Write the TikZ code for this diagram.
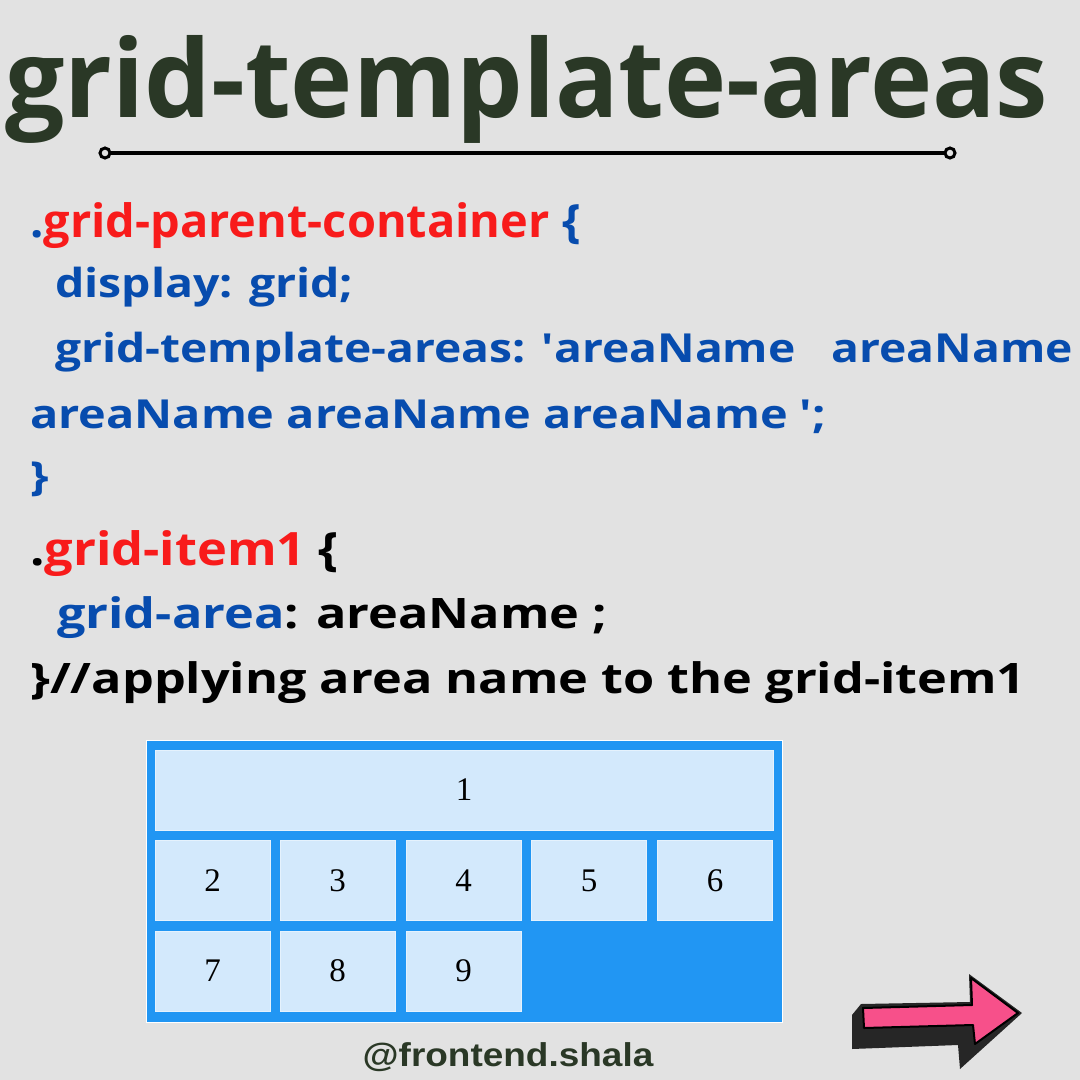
\documentclass[tikz,border=0pt]{standalone}
\usepackage{fontspec}
\setmainfont{Open Sans}
\newfontfamily\handlefont{Liberation Sans}
\newfontfamily\cellfont{Liberation Serif}
\usetikzlibrary{positioning}
\definecolor{titlegreen}{HTML}{2A3826}
\definecolor{codered}{HTML}{F81B1B}
\definecolor{codeblue}{HTML}{074CAE}
\definecolor{gridblue}{HTML}{2196F3}
\definecolor{cellblue}{HTML}{D3E9FC}
\definecolor{paper}{HTML}{E2E2E2}
\definecolor{arrowpink}{HTML}{F7508A}
% straight quote, past the tex-text mapping
\newcommand{\squote}{\XeTeXglyph\XeTeXcharglyph"0027\relax}
\newcommand{\codewide}[2]{\scalebox{#1}[1]{#2}}
\tikzset{
  code/.style={anchor=base west,inner sep=0pt,font=\fontsize{#1}{#1}\selectfont\bfseries},
  code/.default=40,
  cell/.style={fill=cellblue,draw=cellblue!60!white,line width=0.8pt,inner sep=0pt,
    minimum width=115pt,minimum height=80pt,font=\cellfont\fontsize{33}{36}\selectfont},
}
\begin{document}
\begin{tikzpicture}[x=1pt,y=-1pt]
  % paper background
  \useasboundingbox (0,0) rectangle (1080,1080);
  \fill[paper] (0,0) rectangle (1080,1080);
  % title and rule
  \node[anchor=base west,inner sep=0pt,text=titlegreen,
    font=\fontsize{108}{110}\selectfont\bfseries] (title) at (5,117)
    {\codewide{0.975}{grid-template-areas}};
  \coordinate (ruleL) at (105,153);
  \coordinate (ruleR) at (950,153);
  \draw[line width=4pt] (ruleL) -- (ruleR);
  \draw[line width=3pt,fill=paper] (ruleL) circle (5);
  \draw[line width=3pt,fill=paper] (ruleR) circle (5);
  % parent container rule
  \node[code=46,text=codeblue] (parentsel) at (30,237)
    {\codewide{1.02}{.\textcolor{codered}{grid-parent-container} \{}};
  \node[code,text=codeblue] (displayline) at (55,297) {\codewide{1.16}{display: grid;}};
  \node[code,text=codeblue] (areasline) at (55,362)
    {\codewide{1.155}{grid-template-areas: \squote areaName\ \ \ areaName}};
  \node[code,text=codeblue] (areasline2) at (30,428)
    {\codewide{1.17}{areaName areaName areaName \squote;}};
  \node[code,text=codeblue] (closeparent) at (30,490) {\codewide{1.17}{\}}};
  % grid item rule
  \node[code=46] (itemsel) at (30,565)
    {\codewide{1.10}{.\textcolor{codered}{grid-item1} \{}};
  \node[code=42] (arealine) at (57,628)
    {\codewide{1.2}{\textcolor{codeblue}{grid-area}: areaName ;}};
  \node[code=42] (closeitem) at (30,693)
    {\codewide{1.2}{\}//applying area name to the grid-item1}};
  % grid preview
  \draw[white,line width=1pt,fill=gridblue] (146,740) rectangle (782,1022);
  \node[cell,minimum width=618pt] (c1) at (464,790) {1};
  \node[cell] (c2) at (212.5,880.5) {2};
  \node[cell] (c3) at (337.5,880.5) {3};
  \node[cell] (c4) at (463.5,880.5) {4};
  \node[cell] (c5) at (589,880.5) {5};
  \node[cell] (c6) at (715,880.5) {6};
  \node[cell] (c7) at (212.5,971) {7};
  \node[cell] (c8) at (337.5,971) {8};
  \node[cell] (c9) at (463.5,971) {9};
  % handle
  \node[text=titlegreen,inner sep=0pt,anchor=base,
    font=\handlefont\fontsize{33}{34}\selectfont\bfseries] (handle) at (508,1066)
    {\codewide{1.12}{@frontend.shala}};
  % next arrow
  \fill[black!85] (861,1004) -- (852,1015) -- (852,1049) -- (958,1045) -- (960,1069)
    -- (1022,1013) -- (969,974) -- (970,1002) -- cycle;
  \draw[fill=arrowpink,line width=2pt,line join=round] (863,1008) -- (972,1005) -- (971,978)
    -- (1018,1013) -- (975,1044) -- (973,1025) -- (864,1028) -- cycle;
\end{tikzpicture}
\end{document}
